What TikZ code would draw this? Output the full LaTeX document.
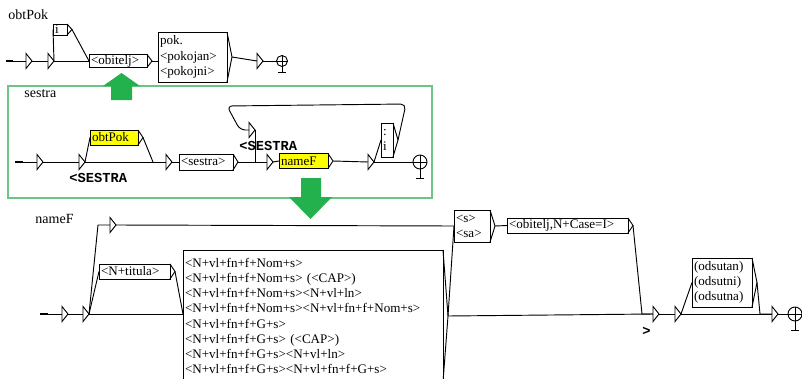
\documentclass[tikz,border=0pt]{standalone}
\usepackage{fontspec}
\setmainfont{Liberation Serif}
\setmonofont{Liberation Mono}
\usetikzlibrary{calc, shapes.geometric}

\definecolor{paintgreen}{RGB}{34,177,76}
\definecolor{framegreen}{RGB}{110,196,130}
\definecolor{boxyellow}{RGB}{255,255,0}

\tikzset{%
  ubox/.style={draw, rectangle, inner xsep=1.5pt, inner ysep=0pt, outer sep=0pt,
               align=left, font=\fontsize{9.8}{11.4}\selectfont},
  ebox/.style={draw, isosceles triangle, isosceles triangle stretches,
               minimum width=11.25pt, minimum height=4.5pt, inner sep=0pt,
               outer sep=0pt, anchor=west},
  fstate/.style={draw, circle, inner sep=0pt, outer sep=0pt, minimum size=10.5pt},
  gname/.style={font=\fontsize{10.5}{12}\selectfont, inner sep=0pt, anchor=west},
  outlbl/.style={font=\fontsize{10.3}{12}\selectfont\ttfamily\bfseries,
                 inner sep=0pt, anchor=base west},
}

% right tip of a box, with its output point #1-o
\newcommand{\boxtip}[1]{%
  \draw (#1.north east) -- ($(#1.east)+(5,0)$) coordinate (#1-o) -- (#1.south east);}
% cross and foot of a final state
\newcommand{\finalfoot}[2]{%
  \draw (#1.west) -- (#1.east) (#1.north) -- ($(#1.south)+(0,#2)$)
        ++(-4,0) -- ++(8,0);}

\begin{document}
\begin{tikzpicture}[x=0.75pt, y=-0.75pt, line width=0.7pt]

    \useasboundingbox (0,0) rectangle (802,378);
    \fill[white] (0,0) rectangle (802,378);
    \clip (0,0) rectangle (802,378);

    % graph obtPok
    \node[gname] (lObt) at (8,15) {obtPok};
    \coordinate (gIn) at (6,61);
    \node[ebox] (gT1) at (26,61) {};
    \node[ebox] (gT2) at (48,61) {};
    \node[ubox, text width=7.5pt, minimum height=8.25pt] (gI) at (60,29.5) {i};
    \node[ubox, text width=40.5pt, minimum height=9.75pt] (gObit) at (118,61) {<obitelj>};
    \node[ubox, text width=48.75pt, minimum height=37.5pt] (gPok) at (192.5,57)
        {pok.\\<pokojan>\\<pokojni>};
    \node[ebox] (gT3) at (257,61) {};
    \node[fstate, minimum size=8.25pt] (gF) at (282,61) {};
    \boxtip{gI} \boxtip{gObit} \boxtip{gPok}
    \finalfoot{gF}{6}

    \draw[line width=1.6pt] (gIn) -- ++(7,0);
    \draw (gIn) -- (gT1.west);
    \draw (gT1.east) -- (gT2.west);
    \draw (gT2.east) -- (gI.west);
    \draw (gT2.east) -- (gObit.west);
    \draw (gI-o) -- (gObit.west);
    \draw (gObit-o) -- (gPok.west |- gObit-o);
    \draw (gPok-o) -- (gT3.west);
    \draw (gT3.east) -- (gF.west);

    % graph sestra
    \draw[framegreen, line width=0.9pt] (8,86) rectangle (432,198);
    \node[gname] (lSes) at (24,94) {sestra};
    \coordinate (sIn) at (15,162);
    \node[ebox] (sT1) at (37,162) {};
    \node[ebox] (sT2) at (79,162) {};
    \node[ubox, fill=boxyellow, text width=33pt, minimum height=11.25pt] (sObt) at (114,137.5) {obtPok};
    \node[ebox] (sT3) at (166,162) {};
    \node[ubox, text width=37.5pt, minimum height=12pt] (sSes) at (206,162) {<sestra>};
    \node[ebox] (sT5) at (249,130) {};
    \node[ebox] (sT4) at (267,162) {};
    \node[ubox, fill=boxyellow, text width=33.75pt, minimum height=11.25pt] (sName) at (303.5,161) {nameF};
    \node[ebox] (sT6) at (368,162) {};
    \node[ubox, text width=6pt, minimum height=25.5pt] (sColI) at (387,140) {:\\i};
    \node[fstate] (sF) at (420,162) {};
    \node[outlbl] (oSes1) at (69,182) {<SESTRA};
    \node[outlbl] (oSes2) at (239,150) {<SESTRA};
    \boxtip{sObt} \boxtip{sSes} \boxtip{sName} \boxtip{sColI}
    \finalfoot{sF}{9}

    \coordinate (sJ1) at (153,162);
    \coordinate (sL1) at (406,104);
    \coordinate (sL2) at (227,106);
    \coordinate (sL3) at (240,130);
    \draw[line width=1.6pt] (sIn) -- ++(8,0);
    \draw (sIn) -- (sT1.west);
    \draw (sT1.east) -- (sT2.west);
    \draw (sT2.east) -- (sObt.west);
    \draw (sT2.east) -- (sT3.west);
    \draw (sObt-o) -- (sJ1);
    \draw (sT3.east) -- (sSes.west);
    \draw (sSes-o) -- (sT4.west);
    \draw (sT4.east) -- (sName.west);
    \draw (sName-o) -- (sT6.west);
    \draw (sT6.east) -- (sColI.west);
    \draw (sT6.east) -- (sF.west);
    \draw[rounded corners=4pt] (sColI-o) -- (sL1) -- (sL2) -- (sL3) -- (sT5.west);
    \draw (sT5.east) -- (sT5.east |- sT4.west);

    % green arrows
    \fill[paintgreen] (111,100) -- (111,86) -- (103,86) -- (121.5,73) -- (140,86)
        -- (132,86) -- (132,100) -- cycle;
    \fill[paintgreen] (301,178) -- (301,197) -- (289,197) -- (310.5,219) -- (332,197)
        -- (321,197) -- (321,178) -- cycle;

    % graph nameF
    \node[gname] (lName) at (35,219) {nameF};
    \coordinate (nIn) at (40,314);
    \node[ebox] (nT1) at (62,314) {};
    \node[ebox] (nT2) at (83,314) {};
    \node[ebox] (nT7) at (110,225) {};
    \node[ubox, text width=50.25pt, minimum height=11.25pt] (nTit) at (134.5,271.5) {<N+titula>};
    \node[ubox, text width=192pt, minimum height=99pt] (nBig) at (313,316)
        {<N+vl+fn+f+Nom+s>\\
         <N+vl+fn+f+Nom+s> (<CAP>)\\
         <N+vl+fn+f+Nom+s><N+vl+ln>\\
         <N+vl+fn+f+Nom+s><N+vl+fn+f+Nom+s>\\
         <N+vl+fn+f+G+s>\\
         <N+vl+fn+f+G+s> (<CAP>)\\
         <N+vl+fn+f+G+s><N+vl+ln>\\
         <N+vl+fn+f+G+s><N+vl+fn+f+G+s>};
    \node[ubox, text width=24pt, minimum height=24pt] (nS) at (472,226) {<s>\\<sa>};
    \node[ubox, text width=87.75pt, minimum height=11.25pt] (nObit) at (567.5,225.5) {<obitelj,N+Case=I>};
    \node[ebox] (nT8) at (653,314) {};
    \node[ebox] (nT9) at (675,314) {};
    \node[ubox, text width=42pt, minimum height=36.75pt] (nOds) at (722,282.5)
        {(odsutan)\\(odsutni)\\(odsutna)};
    \node[ebox] (nT10) at (772,314) {};
    \node[fstate] (nF) at (795,314) {};
    \node[outlbl] (oGt) at (642,335) {>};
    \boxtip{nTit} \boxtip{nBig} \boxtip{nS} \boxtip{nObit} \boxtip{nOds}
    \finalfoot{nF}{9}

    \coordinate (nJ1) at (98,225);
    \coordinate (nJ2) at (642,314);
    \coordinate (nJ3) at (760,314);
    \draw[line width=1.6pt] (nIn) -- ++(8,0);
    \draw (nIn) -- (nT1.west);
    \draw (nT1.east) -- (nT2.west);
    \draw (nT2.east) -- (nJ1) -- (nT7.west);
    \draw (nT2.east) -- (nTit.west);
    \draw (nT2.east) -- (nBig.west |- nT2.east);
    \draw (nTit-o) -- (nBig.west |- nT2.east);
    \draw (nT7.east) -- (nS.west);
    \draw (nBig-o) -- (nS.west);
    \draw (nBig-o) -- (nT8.west);
    \draw (nS-o) -- (nObit.west);
    \draw (nObit-o) -- (nJ2) -- (nT8.west);
    \draw (nT8.east) -- (nT9.west);
    \draw (nT9.east) -- (nOds.west);
    \draw (nT9.east) -- (nT10.west);
    \draw (nOds-o) -- (nJ3) -- (nT10.west);
    \draw (nT10.east) -- (nF.west);

\end{tikzpicture}
\end{document}
